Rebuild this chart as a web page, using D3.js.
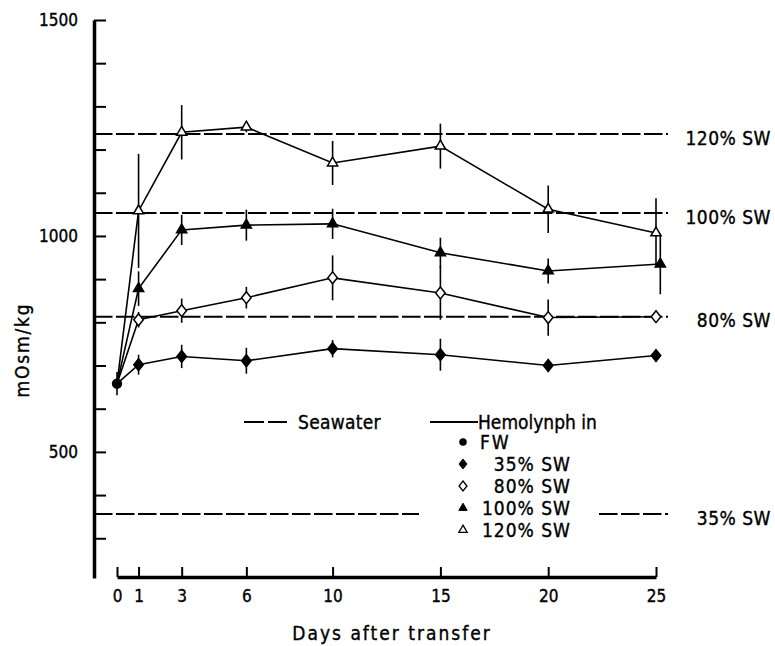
<!DOCTYPE html>
<html><head><meta charset="utf-8">
<script src="https://cdn.jsdelivr.net/npm/d3@7/dist/d3.min.js"></script>
<style>
body{margin:0;background:#fff;}
svg text{font-family:"DejaVu Sans Condensed","DejaVu Sans",sans-serif;font-stretch:condensed;fill:#000;stroke:#000;stroke-width:0.35px;}
</style></head>
<body><svg id="c" width="775" height="646"></svg>
<script>
// ---- data ----
const days = [0, 1, 3, 6, 10, 15, 20, 25];
const xTickLabels = ["0","1","3","6","10","15","20","25"];
const yTickValues = [300,400,500,600,700,800,900,1000,1100,1200,1300,1400,1500];
const yTickLabels = [500, 1000, 1500];

const fwValue = 658, fwErr = 27;

const sw35  = [658, 702, 721, 711, 739, 725, 700, 723];
const sw35e = [0, 23, 27, 30, 20, 37, 0, 0];
const sw80  = [658, 806, 827, 857, 903, 868, 811, 813];
const sw80e = [0, 18, 28, 25, 52, 62, 42, 0];
const sw100 = [658, 878, 1014, 1025, 1028, 961, 919, 935];
const sw100e= [0, 40, 35, 36, 35, 35, 29, 70];
const sw100days = [0, 1, 3, 6, 10, 15, 20, 25.2];
const sw120 = [658, 1058, 1240, 1252, 1169, 1208, 1062, 1007];
const sw120e= [0, 132, 63, 12, 51, 52, 55, 80];

const seawaterNames  = ["120% SW", "100% SW", "80% SW", "35% SW"];
const seawaterLevels = [1236, 1053, 813, 356];

const legendNames = ["FW", "35% SW", "80% SW", "100% SW", "120% SW"];

// ---- layout ----
const svg = d3.select("#c");
const x = d3.scaleLinear().domain([0, 25]).range([117, 656]);
const y = d3.scaleLinear().domain([208, 1500]).range([578, 20]);
const yAxisX = 94, xAxisY = 577, swEndX = 668;
const FONT = 19;

const diamondWide = { draw(ctx, size){ const h = Math.sqrt(size)/1.3, w = h*0.8;
  ctx.moveTo(0,-h); ctx.lineTo(w,0); ctx.lineTo(0,h); ctx.lineTo(-w,0); ctx.closePath(); } };

// seawater dashed lines
const swG = svg.append("g");
seawaterLevels.forEach((v, i) => {
  const yy = y(v);
  if (seawaterNames[i] === "35% SW") {
    swG.append("line").attr("x1", yAxisX).attr("x2", 419).attr("y1", yy).attr("y2", yy);
    swG.append("line").attr("x1", 599).attr("x2", swEndX).attr("y1", yy).attr("y2", yy);
  } else {
    swG.append("line").attr("x1", yAxisX).attr("x2", swEndX).attr("y1", yy).attr("y2", yy);
  }
  svg.append("text").attr("x", 771).attr("y", yy + 4).attr("dy", "0.35em")
    .attr("text-anchor", "end").attr("font-size", FONT).attr("letter-spacing", 0.5).text(seawaterNames[i]);
});
swG.selectAll("line").attr("stroke", "#000").attr("stroke-width", 2).attr("stroke-dasharray", "18.5,3.5");

// axes
const yAxis = d3.axisLeft(y).tickValues(yTickValues).tickSizeInner(-12).tickSizeOuter(0).tickPadding(16)
  .tickFormat(d => yTickLabels.includes(d) ? String(d) : "");
const gy = svg.append("g").attr("transform", `translate(${yAxisX},0)`).call(yAxis);
gy.select(".domain").attr("stroke-width", 3.5);
gy.selectAll(".tick line").attr("stroke-width", 2);
gy.selectAll("text").attr("font-size", 17).attr("font-family", null);

const xAxis = d3.axisBottom(x).tickValues(days).tickSizeInner(-10).tickSizeOuter(0).tickPadding(13)
  .tickFormat((d, i) => xTickLabels[i]);
const gx = svg.append("g").attr("transform", `translate(0,${xAxisY})`).call(xAxis);
gx.select(".domain").attr("stroke-width", 3.5);
gx.selectAll(".tick line").attr("stroke-width", 2);
gx.selectAll("text").attr("font-size", 17).attr("font-family", null);

svg.append("text").attr("transform", "translate(29,350) rotate(-90)").attr("text-anchor", "middle")
  .attr("font-size", FONT).attr("letter-spacing", 1.8).text("mOsm/kg");
svg.append("text").attr("x", 392).attr("y", 640).attr("text-anchor", "middle")
  .attr("font-size", FONT).attr("letter-spacing", 2).text("Days after transfer");

// series
const series = [
  { vals: sw35,  err: sw35e,  d: days,      sym: diamondWide,        size: 60, fill: "#000" },
  { vals: sw80,  err: sw80e,  d: days,      sym: diamondWide,        size: 60, fill: "#fff" },
  { vals: sw100, err: sw100e, d: sw100days, sym: d3.symbolTriangle,  size: 45, fill: "#000" },
  { vals: sw120, err: sw120e, d: days,      sym: d3.symbolTriangle,  size: 45, fill: "#fff" }
];
const line = d3.line().x(p => x(p[0])).y(p => y(p[1]));
const plot = svg.append("g");
series.forEach(s => {
  const pts = s.d.map((dd, i) => [dd, s.vals[i]]);
  plot.append("path").attr("d", line(pts)).attr("fill", "none").attr("stroke", "#000").attr("stroke-width", 1.6);
});
series.forEach(s => {
  s.d.forEach((dd, i) => {
    if (i === 0 || !s.err[i]) return;
    plot.append("line").attr("x1", x(dd)).attr("x2", x(dd))
      .attr("y1", y(s.vals[i] + s.err[i])).attr("y2", y(s.vals[i] - s.err[i]))
      .attr("stroke", "#000").attr("stroke-width", 1.6);
  });
});
plot.append("line").attr("x1", x(0)).attr("x2", x(0)).attr("y1", y(fwValue + fwErr)).attr("y2", y(fwValue - fwErr))
  .attr("stroke", "#000").attr("stroke-width", 1.6);
series.forEach(s => {
  s.d.forEach((dd, i) => {
    if (i === 0) return;
    plot.append("path").attr("d", d3.symbol(s.sym, s.size)())
      .attr("transform", `translate(${x(dd)},${y(s.vals[i])})`)
      .attr("fill", s.fill).attr("stroke", "#000").attr("stroke-width", 1.5);
  });
});
plot.append("path").attr("d", d3.symbol(d3.symbolCircle, 85)())
  .attr("transform", `translate(${x(0)},${y(fwValue)})`).attr("fill", "#000");

// legend
const lg = svg.append("g");
lg.append("line").attr("x1", 244).attr("x2", 287).attr("y1", 422).attr("y2", 422)
  .attr("stroke", "#000").attr("stroke-width", 2).attr("stroke-dasharray", "20,4");
lg.append("text").attr("x", 298).attr("y", 422).attr("dy", "0.35em").attr("font-size", FONT).attr("letter-spacing", 0.3).text("Seawater");
lg.append("line").attr("x1", 430).attr("x2", 478).attr("y1", 422).attr("y2", 422)
  .attr("stroke", "#000").attr("stroke-width", 2);
lg.append("text").attr("x", 478).attr("y", 422).attr("dy", "0.35em").attr("font-size", FONT).text("Hemolynph in");
const legSyms = [
  { sym: d3.symbolCircle, size: 45, fill: "#000", sw: 0 },
  { sym: diamondWide, size: 42, fill: "#000", sw: 1 },
  { sym: diamondWide, size: 42, fill: "#fff", sw: 1.3 },
  { sym: d3.symbolTriangle, size: 30, fill: "#000", sw: 1 },
  { sym: d3.symbolTriangle, size: 30, fill: "#fff", sw: 1.3 }
];
legendNames.forEach((n, i) => {
  const yy = 442 + i * 22;
  const m = legSyms[i];
  lg.append("path").attr("d", d3.symbol(m.sym, m.size)()).attr("transform", `translate(463,${yy})`)
    .attr("fill", m.fill).attr("stroke", m.sw ? "#000" : "none").attr("stroke-width", m.sw);
  lg.append("text").attr("x", i === 0 ? 480 : 571).attr("y", yy).attr("dy", "0.35em")
    .attr("text-anchor", i === 0 ? "start" : "end").attr("font-size", FONT)
    .attr("letter-spacing", i === 0 ? 2 : 1).text(n);
});
</script></body></html>
